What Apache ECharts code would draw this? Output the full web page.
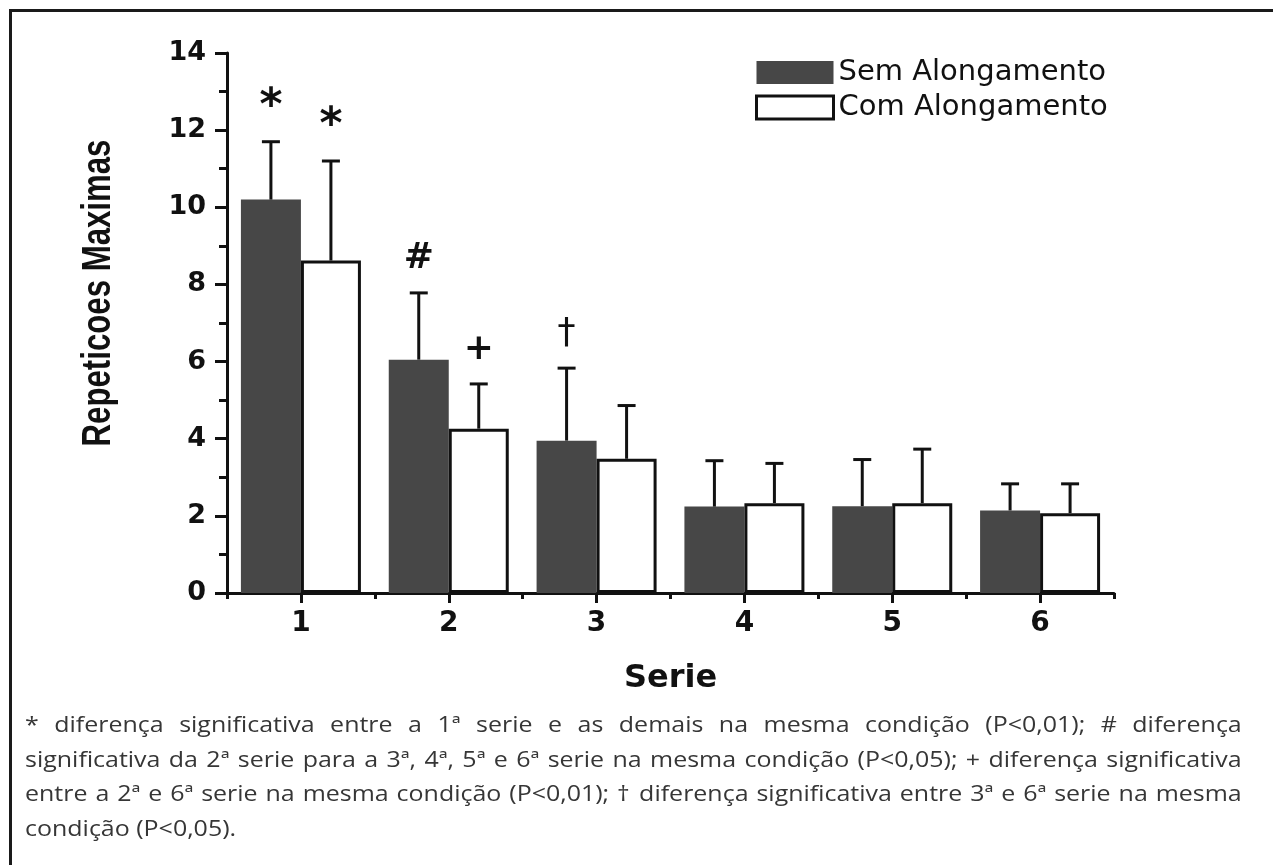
<!DOCTYPE html>
<html>
<head>
<meta charset="utf-8">
<script src="https://cdn.jsdelivr.net/npm/echarts@6/dist/echarts.min.js"></script>
<style>
  html, body { margin: 0; padding: 0; background: #fff; overflow: hidden; width: 1273px; height: 865px; }
  #frame { position: absolute; left: 9px; top: 9px; width: 1300px; height: 900px;
           border-top: 3px solid #1a1a1a; border-left: 3px solid #1a1a1a; box-sizing: border-box; }
  #chart { position: absolute; left: 0; top: 0; width: 1273px; height: 865px; }
  #note { position: absolute; left: 25px; top: 706px; width: 1072px;
          transform: scaleX(1.135); transform-origin: 0 0;
          font-family: "Open Sans", "Noto Sans", sans-serif; font-size: 22px;
          line-height: 34.7px; color: #363636; }
  #note div { text-align: justify; text-align-last: justify; white-space: nowrap; }
  #note div.last { text-align: left; text-align-last: left; }
</style>
</head>
<body>
<div id="chart"></div>
<div id="frame"></div>
<div id="note"></div>
<script>
// ---- data ----
const categories = ['1', '2', '3', '4', '5', '6'];
const seriesNames = ['Sem Alongamento', 'Com Alongamento'];
const semMean  = [10.2, 6.05, 3.95, 2.24, 2.25, 2.14];
const semUpper = [11.7, 7.78, 5.83, 3.43, 3.46, 2.83];
const comMean  = [8.62, 4.26, 3.48, 2.33, 2.33, 2.07];
const comUpper = [11.2, 5.42, 4.86, 3.36, 3.73, 2.83];
const semMarks = ['*', '#', '†', '', '', ''];
const comMarks = ['*', '+', '', '', '', ''];
const yAxisTitle = 'Repeticoes Maximas';
const xAxisTitle = 'Serie';
const footnoteLines = [
  '* diferença significativa entre a 1ª serie e as demais na mesma condição (P<0,01); #  diferença',
  'significativa da 2ª serie para a 3ª, 4ª, 5ª e 6ª serie na mesma condição (P<0,05); + diferença significativa',
  'entre a 2ª e 6ª serie na mesma condição (P<0,01); † diferença significativa entre 3ª e 6ª serie na mesma',
  'condição (P<0,05).'
];

// ---- styles ----
const BAR_WIDTH = 60;
const CAP = 18;
const INK = '#111';
const DARK = '#474747';
const FONT = '"DejaVu Sans", sans-serif';
const MARK_SIZE = { '*': 44 };
const MARK_WEIGHT = { '†': 'normal' };

// footnote: each line justified to the full width (as in the reference)
const note = document.getElementById('note');
footnoteLines.forEach((t, i) => {
  const d = document.createElement('div');
  const s = document.createElement('span');
  s.textContent = t;
  d.appendChild(s);
  if (i === footnoteLines.length - 1) d.className = 'last';
  note.appendChild(d);
  const natural = s.offsetWidth;
  const avail = note.clientWidth;
  if (natural > avail) {
    d.style.letterSpacing = ((avail - natural) / t.length - 0.05) + 'px';
  }
});

function errorSeries(name, means, uppers, marks, side) {
  return {
    type: 'custom',
    name: name + ' (DP)',
    xAxisIndex: 0,
    z: 5,
    silent: true,
    clip: false,
    data: means.map((m, i) => [i, m, uppers[i]]),
    encode: { x: 0, y: [1, 2] },
    renderItem: function (params, api) {
      const i = api.value(0);
      const base = api.coord([i, api.value(1)]);
      const top = api.coord([i, api.value(2)]);
      const x = base[0] + side * BAR_WIDTH / 2;
      const children = [
        { type: 'line', shape: { x1: x, y1: base[1], x2: x, y2: top[1] },
          style: { stroke: INK, lineWidth: 3 } },
        { type: 'line', shape: { x1: x - CAP / 2, y1: top[1], x2: x + CAP / 2, y2: top[1] },
          style: { stroke: INK, lineWidth: 3 } }
      ];
      const mk = marks[params.dataIndex];
      if (mk) {
        const fs = MARK_SIZE[mk] || 36;
        const fw = MARK_WEIGHT[mk] || 'bold';
        children.push({
          type: 'text', x: x, y: top[1] - 34,
          style: { text: mk, font: fw + ' ' + fs + 'px "DejaVu Sans"', fill: INK,
                   align: 'center', verticalAlign: 'middle' }
        });
      }
      return { type: 'group', children: children };
    }
  };
}

const chart = echarts.init(document.getElementById('chart'));
chart.setOption({
  backgroundColor: 'transparent',
  animation: false,
  grid: { left: 227, right: 159, top: 53, bottom: 272, containLabel: false },
  legend: {
    orient: 'vertical', left: 750, top: 53,
    itemWidth: 77, itemHeight: 23, itemGap: 6, icon: 'rect',
    selectedMode: false,
    textStyle: { fontFamily: FONT, fontSize: 29, color: INK },
    data: [
      { name: seriesNames[0], itemStyle: { color: DARK, borderWidth: 0 } },
      { name: seriesNames[1], itemStyle: { color: '#fff', borderColor: INK, borderWidth: 3 } }
    ]
  },
  xAxis: [
    {
      type: 'category', data: categories, position: 'bottom',
      axisLine: { show: true, lineStyle: { color: INK, width: 3 } },
      axisTick: { show: true, alignWithLabel: true, length: 10, lineStyle: { color: INK, width: 3 } },
      axisLabel: { margin: 17, fontFamily: FONT, fontWeight: 'bold', fontSize: 28, color: INK },
      splitLine: { show: false },
      name: xAxisTitle, nameLocation: 'middle', nameGap: 70,
      nameTextStyle: { fontFamily: FONT, fontWeight: 'bold', fontSize: 32, color: INK }
    },
    {
      type: 'category', data: categories, position: 'bottom',
      axisLine: { show: false },
      axisTick: { show: true, alignWithLabel: false, length: 6, lineStyle: { color: INK, width: 3 } },
      axisLabel: { show: false },
      splitLine: { show: false }
    }
  ],
  yAxis: {
    type: 'value', min: 0, max: 14, interval: 2,
    axisLine: { show: true, lineStyle: { color: INK, width: 3 } },
    axisTick: { show: true, length: 12, lineStyle: { color: INK, width: 3 } },
    minorTick: { show: true, splitNumber: 2, length: 8, lineStyle: { color: INK, width: 3 } },
    splitLine: { show: false },
    axisLabel: { margin: 21, fontFamily: FONT, fontWeight: 'bold', fontSize: 27, color: INK }
  },
  graphic: [{
    type: 'text', x: 99, y: 293, rotation: Math.PI / 2, scaleX: 0.78,
    style: { text: yAxisTitle, font: 'bold 40px "Liberation Sans", Arial, sans-serif',
             fill: INK, align: 'center', verticalAlign: 'middle' }
  }],
  series: [
    { type: 'bar', name: seriesNames[0], xAxisIndex: 0, data: semMean,
      barWidth: BAR_WIDTH, barGap: '0%',
      itemStyle: { color: DARK } },
    { type: 'bar', name: seriesNames[1], xAxisIndex: 0, data: comMean,
      barWidth: BAR_WIDTH, barGap: '0%',
      itemStyle: { color: '#fff', borderColor: INK, borderWidth: 3 } },
    errorSeries(seriesNames[0], semMean, semUpper, semMarks, -1),
    errorSeries(seriesNames[1], comMean, comUpper, comMarks, 1)
  ]
});
</script>
</body>
</html>
